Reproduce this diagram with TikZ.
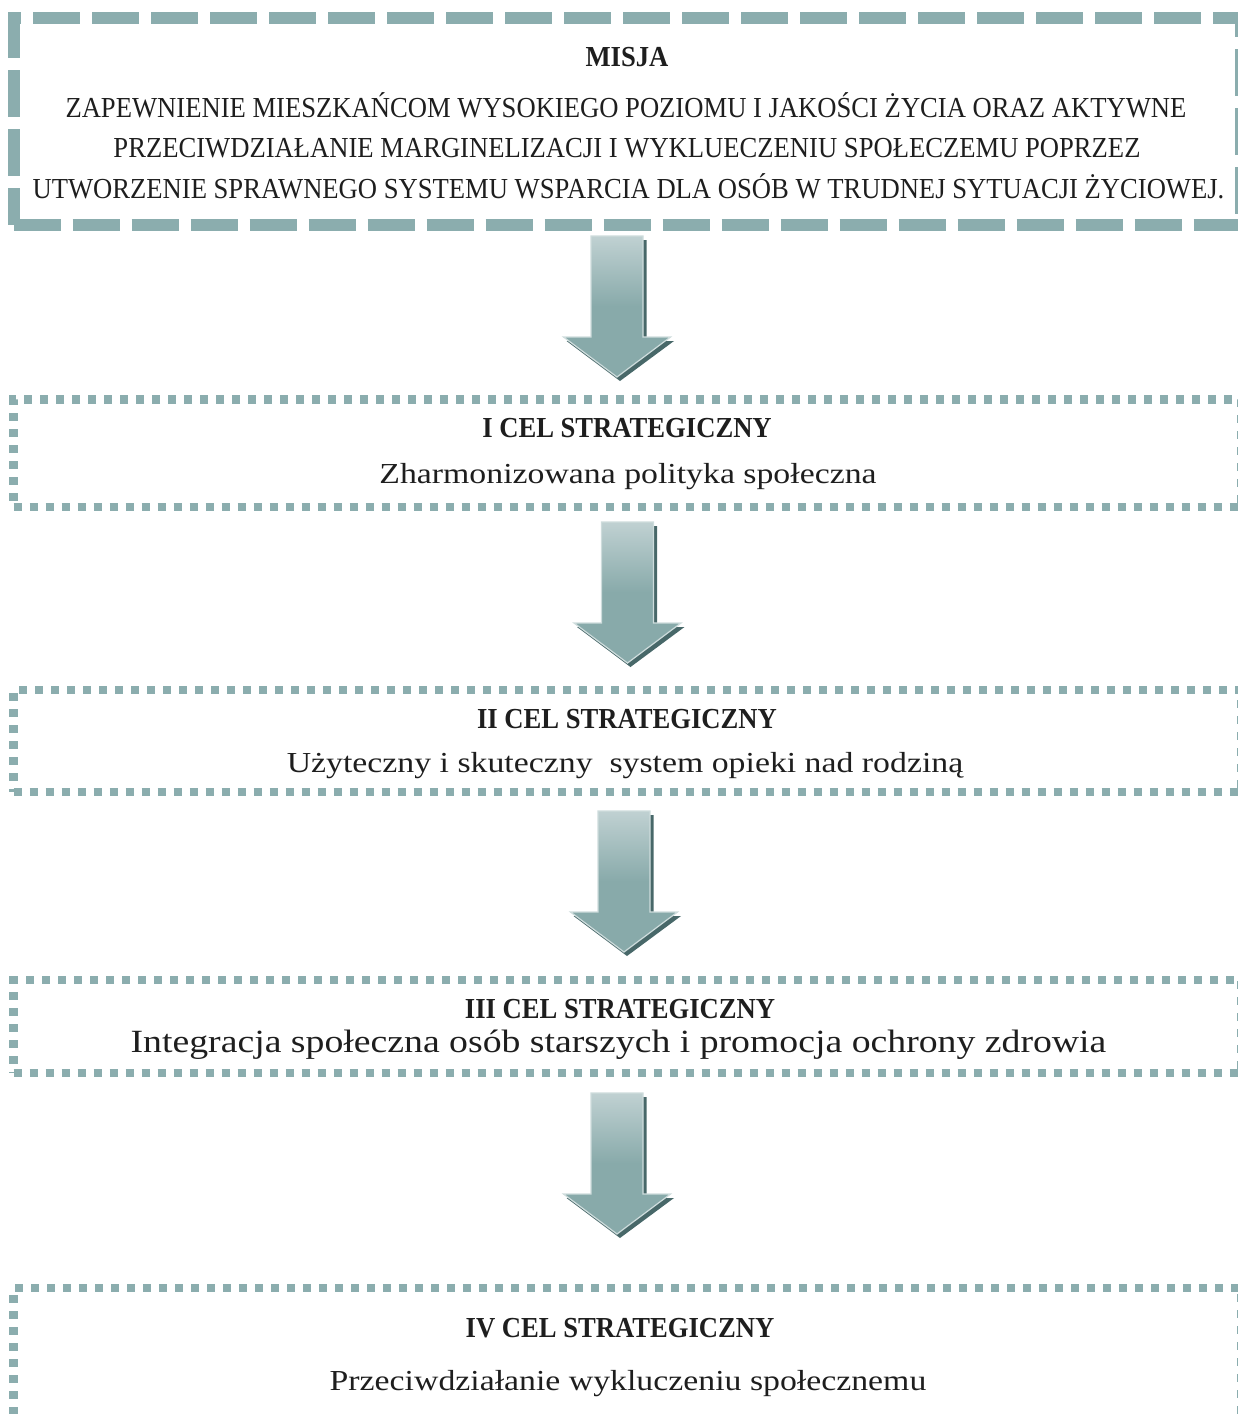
\documentclass[tikz,border=0pt]{standalone}
\usepackage{fontspec}
\setmainfont{Liberation Serif}[FakeStretch=0.918]
\newfontfamily\opisfont{Liberation Serif}[FakeStretch=1.165]
\usetikzlibrary{positioning}
\definecolor{ramka}{RGB}{139,173,174}
\definecolor{tekst}{RGB}{30,30,30}
\definecolor{jasny}{RGB}{192,209,210}
\definecolor{sredni}{RGB}{136,170,170}
\definecolor{obwodka}{RGB}{206,220,220}
\definecolor{cien}{RGB}{72,104,105}
\tikzset{
  misjabox/.style={draw=ramka, line width=12pt, dash pattern=on 47pt off 12pt, minimum width=1227.5pt, inner sep=0pt}, % gruba przerywana ramka misji
  celbox/.style={draw=ramka, line width=8.5pt, dash pattern=on 8pt off 8pt, minimum width=1227.5pt, inner sep=0pt}, % kropkowana ramka celu
  wiersz/.style={anchor=base, text=tekst, inner sep=0pt, font=\fontsize{29}{35}\selectfont},
  tytul/.style={wiersz, font=\fontsize{29}{35}\selectfont\bfseries},
  opis/.style={wiersz, font=\fontsize{29}{35}\selectfont\opisfont},
  strzalka/.pic={
    \fill[cien] (-23,4) -- (29.5,4) -- (29.5,105) -- (57,105) -- (3,145) -- (-50.5,105) -- (-23,105) -- cycle;
    \shade[top color=jasny, bottom color=sredni, middle color=sredni, draw=obwodka, line width=1.2pt]
      (-26,0) -- (26,0) -- (26,101) -- (53.5,101) -- (0,141) -- (-53.5,101) -- (-26,101) -- cycle;
  }
}

\begin{document}
\begin{tikzpicture}[x=1pt, y=-1pt]
    \useasboundingbox (0,0) rectangle (1238,1414);

    % ramki
    \node[misjabox, minimum height=207pt] (misja) at (627.25,121.5) {};
    \node[celbox, minimum height=107.5pt] (cel1) at (627.25,453.25) {};
    \node[celbox, minimum height=102pt] (cel2) at (627.25,741) {};
    \node[celbox, minimum height=93pt] (cel3) at (627.25,1026.5) {};
    \node[celbox, minimum height=130pt] (cel4) at (627.25,1353) {};

    % misja
    \node[tytul] (misjaT) at (627,66.5) {MISJA};
    \node[wiersz] (misjaL1) at (626,117) {ZAPEWNIENIE MIESZKAŃCOM WYSOKIEGO POZIOMU I JAKOŚCI ŻYCIA ORAZ AKTYWNE};
    \node[wiersz] (misjaL2) at (627,157.5) {PRZECIWDZIAŁANIE MARGINELIZACJI I WYKLUECZENIU SPOŁECZEMU POPRZEZ};
    \node[wiersz] (misjaL3) at (628.5,198) {UTWORZENIE SPRAWNEGO SYSTEMU WSPARCIA DLA OSÓB W TRUDNEJ SYTUACJI ŻYCIOWEJ.};

    % cele
    \node[tytul] (cel1T) at (627,437) {I CEL STRATEGICZNY};
    \node[opis] (cel1O) at (628,483) {Zharmonizowana polityka społeczna};
    \node[tytul] (cel2T) at (627,728) {II CEL STRATEGICZNY};
    \node[opis] (cel2O) at (625,772) {Użyteczny i skuteczny\ \ system opieki nad rodziną};
    \node[tytul] (cel3T) at (620,1018) {III CEL STRATEGICZNY};
    \node[opis, font=\fontsize{32.4}{38}\selectfont\opisfont] (cel3O) at (618.5,1052) {Integracja społeczna osób starszych i promocja ochrony zdrowia};
    \node[tytul] (cel4T) at (620,1337) {IV CEL STRATEGICZNY};
    \node[opis] (cel4O) at (628,1390) {Przeciwdziałanie wykluczeniu społecznemu};

    % strzalki
    \pic (s1) at (617,236) {strzalka};
    \pic (s2) at (627.5,522) {strzalka};
    \pic (s3) at (624,811) {strzalka};
    \pic (s4) at (617,1093) {strzalka};
\end{tikzpicture}
\end{document}
